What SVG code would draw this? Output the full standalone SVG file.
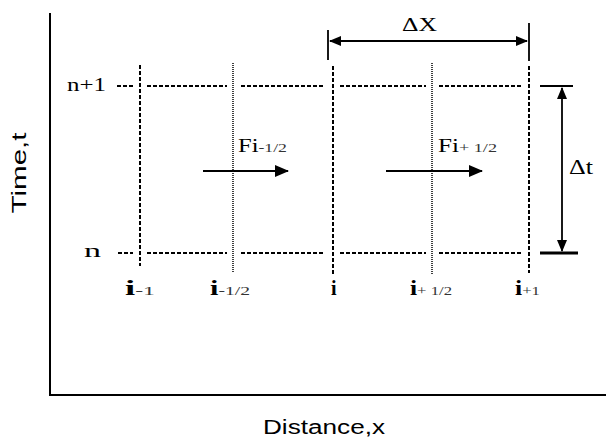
<svg xmlns="http://www.w3.org/2000/svg" width="606" height="439" viewBox="0 0 606 439">
<style>
.axis{stroke:#000;stroke-width:2;fill:none}
.grid{stroke:#000;stroke-width:2;stroke-dasharray:4 2;fill:none}
.half{stroke:#000;stroke-width:1.5;stroke-dasharray:1 1;fill:none}
.dim{stroke:#000;stroke-width:1.8;fill:none}
.flux{stroke:#000;stroke-width:1.8;fill:none}
.ser{font-family:"Liberation Serif","Times New Roman",serif;fill:#000}
.san{font-family:"Liberation Sans",Arial,sans-serif;fill:#000}
.sub{font-size:13px;fill:#333}
</style>
<defs>
<marker id="ah" viewBox="0 0 12 10" refX="11" refY="5" markerWidth="12" markerHeight="10" markerUnits="userSpaceOnUse" orient="auto-start-reverse">
<path d="M0,0 L12,5 L0,10 z" fill="#000"/>
</marker>
<marker id="big" viewBox="0 0 14 12" refX="13" refY="6" markerWidth="14" markerHeight="12" markerUnits="userSpaceOnUse" orient="auto">
<path d="M0,0 L14,6 L0,12 z" fill="#000"/>
</marker>
</defs>

<g id="axes">
<line class="axis" x1="50" y1="13" x2="50" y2="396"/>
<line class="axis" x1="49" y1="395" x2="606" y2="395"/>
<text class="san" font-size="20" x="0" y="0" transform="translate(26,173) rotate(-90)" text-anchor="middle" textLength="81" lengthAdjust="spacingAndGlyphs">Time,t</text>
<text class="san" font-size="20" x="263" y="434" textLength="122" lengthAdjust="spacingAndGlyphs">Distance,x</text>
</g>

<g id="time-levels">
<text class="ser" font-size="19" x="67" y="91" textLength="39" lengthAdjust="spacingAndGlyphs">n+1</text>
<path class="grid" d="M117,86H133 M147,86H227 M241,86H324 M340,86H426 M439,86H523"/>
<text class="ser" font-size="19" x="84" y="257" textLength="17" lengthAdjust="spacingAndGlyphs">n</text>
<path class="grid" d="M118,253H133 M147,253H227 M241,253H324 M340,253H426 M439,253H523"/>
</g>

<g id="node-i-1">
<line class="grid" x1="140" y1="65" x2="140" y2="266"/>
<text class="ser" x="125" y="295" textLength="30" lengthAdjust="spacingAndGlyphs"><tspan font-size="20" font-weight="bold">i</tspan><tspan class="sub">-1</tspan></text>
</g>
<g id="face-i-half-minus">
<line class="half" x1="233" y1="63" x2="233" y2="273"/>
<text class="ser" x="210" y="295" textLength="40" lengthAdjust="spacingAndGlyphs"><tspan font-size="20" font-weight="bold">i</tspan><tspan class="sub">-1/2</tspan></text>
</g>
<g id="node-i">
<line class="grid" x1="333" y1="66" x2="333" y2="275"/>
<text class="ser" x="331" y="295" font-size="20" font-weight="bold">i</text>
</g>
<g id="face-i-half-plus">
<line class="half" x1="432" y1="63" x2="432" y2="275"/>
<text class="ser" x="410" y="295" textLength="42" lengthAdjust="spacingAndGlyphs"><tspan font-size="20" font-weight="bold">i</tspan><tspan class="sub">+ 1/2</tspan></text>
</g>
<g id="node-i+1">
<line class="grid" x1="529" y1="66" x2="529" y2="273"/>
<text class="ser" x="515" y="295" textLength="25" lengthAdjust="spacingAndGlyphs"><tspan font-size="20" font-weight="bold">i</tspan><tspan class="sub">+1</tspan></text>
</g>

<g id="connectors">
<line class="dim" x1="328" y1="30" x2="328" y2="60"/>
<line class="dim" x1="529" y1="23" x2="529" y2="61"/>
<line class="dim" x1="330" y1="41" x2="527" y2="41" marker-start="url(#ah)" marker-end="url(#ah)"/>
<line x1="540" y1="86" x2="573" y2="86" stroke="#000" stroke-width="2"/>
<line class="dim" x1="562" y1="88" x2="562" y2="251" marker-start="url(#ah)" marker-end="url(#ah)"/>
<line x1="540" y1="253" x2="578" y2="253" stroke="#000" stroke-width="3"/>
<line class="flux" x1="203" y1="171" x2="288" y2="171" marker-end="url(#big)"/>
<line class="flux" x1="386" y1="171" x2="482" y2="171" marker-end="url(#big)"/>
</g>

<g id="labels">
<text class="ser" font-size="19" x="402" y="31" textLength="35" lengthAdjust="spacingAndGlyphs">ΔX</text>
<text class="ser" font-size="20" x="569" y="174" textLength="24" lengthAdjust="spacingAndGlyphs">Δt</text>
<text class="ser" x="238" y="152" textLength="49" lengthAdjust="spacingAndGlyphs"><tspan font-size="18">Fi</tspan><tspan class="sub">-1/2</tspan></text>
<text class="ser" x="438" y="152" textLength="59" lengthAdjust="spacingAndGlyphs"><tspan font-size="18">Fi</tspan><tspan class="sub">+ 1/2</tspan></text>
</g>
</svg>
